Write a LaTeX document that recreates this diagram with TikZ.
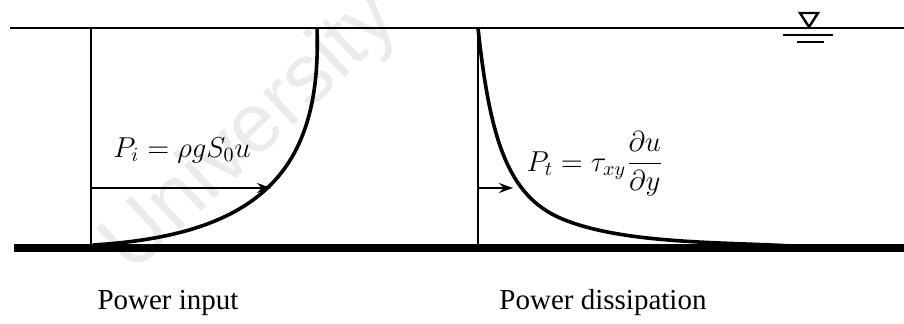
\documentclass[tikz,border=0pt]{standalone}
\usepackage{fontspec}
\setmainfont{Liberation Serif}
\newfontfamily\wmfont{Liberation Sans}
\usetikzlibrary{arrows.meta}

\tikzset{
  thinline/.style={line width=0.75pt},
  profile/.style={line width=1.8pt},
  powerarrow/.style={line width=0.75pt, -{Stealth[length=7pt, width=5pt, inset=2.5pt]}},
  caption/.style={font=\fontsize{14.5pt}{17pt}\selectfont},
}

\begin{document}
\begin{tikzpicture}[x=0.5pt, y=-0.5pt]
  \useasboundingbox (0,0) rectangle (904,324);

  % Watermark
  \node[rotate=43, text=gray!16, font=\wmfont\fontsize{42pt}{42pt}\selectfont] (mark) at (252,134) {University};

  % Water surface and bed
  \draw[thinline] (10,28) -- (904,28);
  \draw[line width=4pt] (14,248) -- (904,248);

  % Water level symbol
  \draw[line width=1.2pt, line join=miter] (800,13) -- (818,13) -- (809,27) -- cycle;
  \draw[line width=1.2pt] (783,35) -- (833,35);
  \draw[line width=1.2pt] (797,42) -- (824,42);

  % Power input
  \draw[thinline] (91,28) -- (91,246);
  \draw[profile] (93,245) .. controls (260,235) and (322,170) .. (317,28);
  \coordinate (inbase) at (91,188);
  \coordinate (intip) at (271,188);
  \draw[powerarrow] (inbase) -- (intip);
  \node[caption] (inlabel) at (182,150) {$P_i=\rho g S_0 u$};
  \node[caption] (incap) at (168,303) {Power input};

  % Power dissipation
  \draw[thinline] (478,28) -- (478,246);
  \draw[profile] (478,28) .. controls (490,140) and (508,195) .. (560,218)
                 .. controls (620,244) and (720,242) .. (792,246);
  \coordinate (outbase) at (478,188);
  \coordinate (outtip) at (513,188);
  \draw[powerarrow] (outbase) -- (outtip);
  \node[caption] (outlabel) at (595,164) {$P_t=\tau_{xy}\displaystyle\frac{\partial u}{\partial y}$};
  \node[caption] (outcap) at (603,303) {Power dissipation};
\end{tikzpicture}
\end{document}
